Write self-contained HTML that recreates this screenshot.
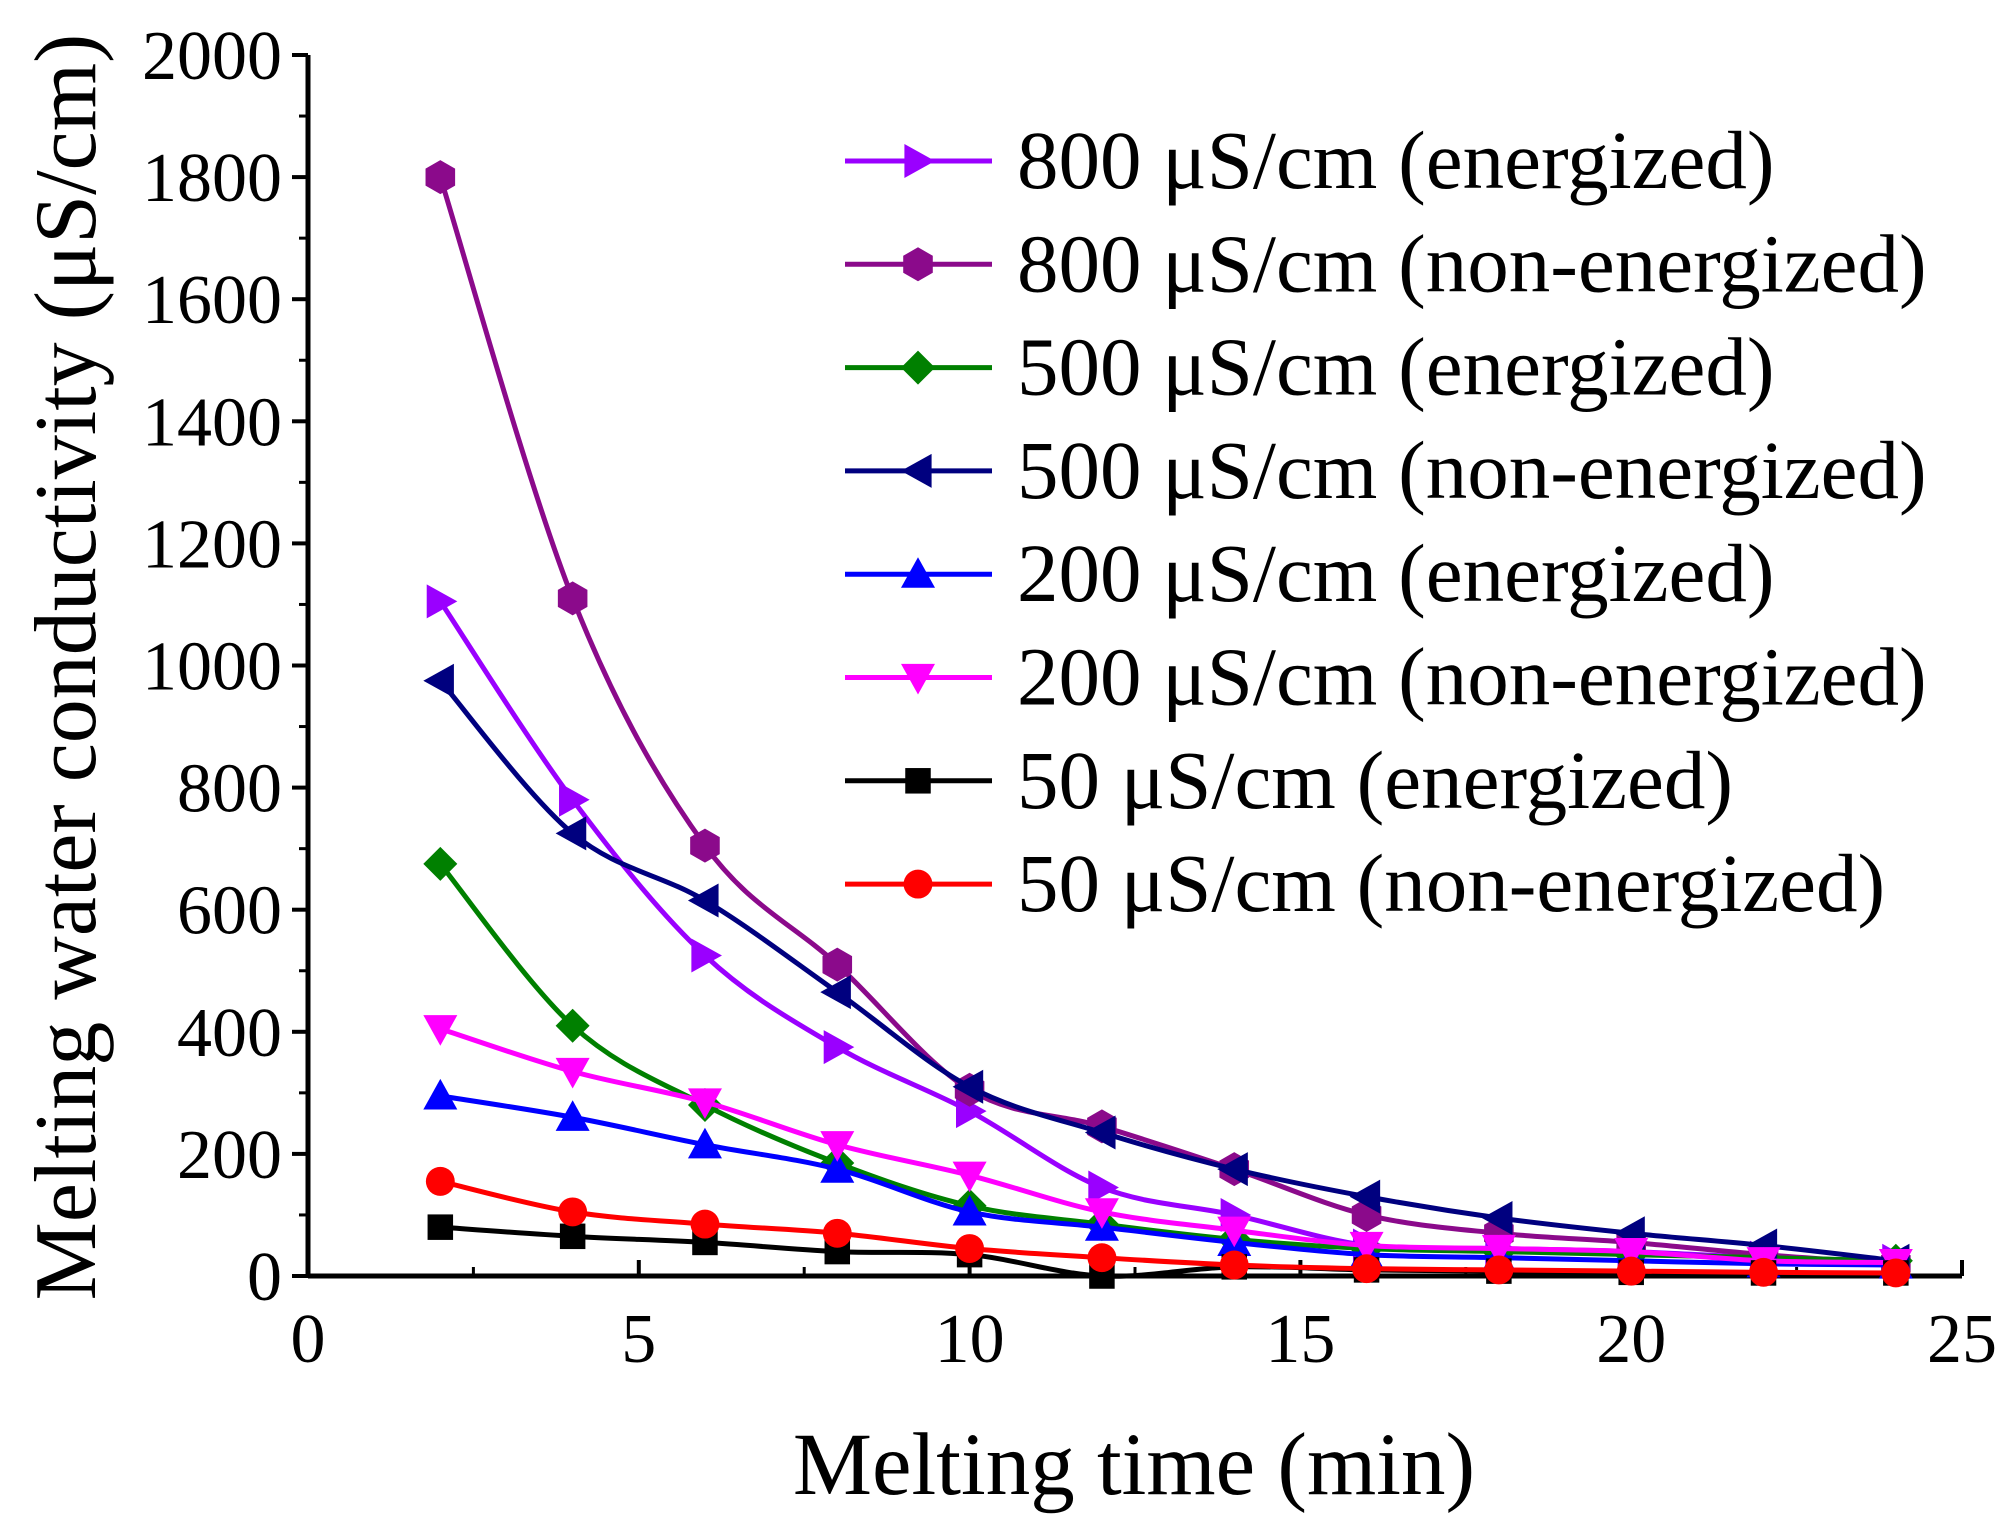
<!DOCTYPE html>
<html><head><meta charset="utf-8"><style>
html,body{margin:0;padding:0;background:#fff}
svg{display:block;font-family:"Liberation Serif",serif}
</style></head><body>
<svg id="chart" width="2005" height="1527" xmlns="http://www.w3.org/2000/svg"></svg>
<script>
const xValues=[2,4,6,8,10,12,14,16,18,20,22,24];
const s800e=[1105,780,525,375,270,145,100,50,45,40,30,25];
const s800n=[1800,1110,705,510,305,245,175,100,70,55,35,20];
const s500e=[675,410,280,185,115,85,60,45,40,35,30,25];
const s500n=[975,725,615,465,310,235,175,130,95,70,50,25];
const s200e=[295,260,215,175,105,80,55,35,30,25,20,18];
const s200n=[405,335,285,215,165,105,75,50,45,40,25,22];
const s50e=[80,65,55,40,35,0,15,10,8,6,5,5];
const s50n=[155,105,85,70,45,30,18,12,10,8,6,5];
const xTicks=[0,5,10,15,20,25];
const yTicks=[0,200,400,600,800,1000,1200,1400,1600,1800,2000];
const legendLabels=["800 μS/cm (energized)","800 μS/cm (non-energized)","500 μS/cm (energized)","500 μS/cm (non-energized)","200 μS/cm (energized)","200 μS/cm (non-energized)","50 μS/cm (energized)","50 μS/cm (non-energized)"];

const X0=308,X1=1962,Y0=1276,Y1=55;
const sx=v=>X0+(v-0)/25*(X1-X0);
const sy=v=>Y0-(v-0)/2000*(Y0-Y1);
const svg=document.getElementById('chart');
const NS="http://www.w3.org/2000/svg";
function mk(tag,attrs,parent){const e=document.createElementNS(NS,tag);for(const k in attrs)e.setAttribute(k,attrs[k]);(parent||svg).appendChild(e);return e;}

const series=[
 {d:s800e,c:"#9a00ff",m:"right"},
 {d:s800n,c:"#8b0a8b",m:"hex"},
 {d:s500e,c:"#008000",m:"diamond"},
 {d:s500n,c:"#00007f",m:"left"},
 {d:s200e,c:"#0000ff",m:"up"},
 {d:s200n,c:"#ff00ff",m:"down"},
 {d:s50e,c:"#000000",m:"square"},
 {d:s50n,c:"#ff0000",m:"circle"}
];
function marker(type,x,y,c,g){
 const r=17;let e;
 if(type==="circle")e=mk('circle',{cx:x,cy:y,r:r*0.85,fill:c},g);
 else if(type==="square")e=mk('rect',{x:x-r*0.75,y:y-r*0.75,width:r*1.5,height:r*1.5,fill:c},g);
 else{let p;
  if(type==="up")p=[[0,-r],[r,r*0.8],[-r,r*0.8]];
  if(type==="down")p=[[0,r],[r,-r*0.8],[-r,-r*0.8]];
  if(type==="right")p=[[r,0],[-r*0.8,-r],[-r*0.8,r]];
  if(type==="left")p=[[-r,0],[r*0.8,-r],[r*0.8,r]];
  if(type==="diamond")p=[[0,-r],[r,0],[0,r],[-r,0]];
  if(type==="hex")p=[[0,-r],[r*0.87,-r*0.5],[r*0.87,r*0.5],[0,r],[-r*0.87,r*0.5],[-r*0.87,-r*0.5]];
  e=mk('polygon',{points:p.map(q=>(x+q[0])+","+(y+q[1])).join(" "),fill:c},g);}
 return e;
}
function smooth(pts){
 let d="M"+pts[0][0]+","+pts[0][1];
 for(let i=0;i<pts.length-1;i++){
  const p0=pts[Math.max(0,i-1)],p1=pts[i],p2=pts[i+1],p3=pts[Math.min(pts.length-1,i+2)];
  const c1=[p1[0]+(p2[0]-p0[0])/6,p1[1]+(p2[1]-p0[1])/6];
  const c2=[p2[0]-(p3[0]-p1[0])/6,p2[1]-(p3[1]-p1[1])/6];
  d+=` C${c1[0]},${c1[1]} ${c2[0]},${c2[1]} ${p2[0]},${p2[1]}`;
 }return d;
}
const ax=mk('g',{});


mk('line',{x1:X0,y1:Y0,x2:X1,y2:Y0,stroke:"#000","stroke-width":5},ax);
mk('line',{x1:X0,y1:Y0+2,x2:X0,y2:Y1,stroke:"#000","stroke-width":5},ax);
yTicks.forEach(v=>{
 mk('line',{x1:X0-16,y1:sy(v),x2:X0,y2:sy(v),stroke:"#000","stroke-width":4},ax);
 if(v<2000)mk('line',{x1:X0-9,y1:sy(v+100),x2:X0,y2:sy(v+100),stroke:"#000","stroke-width":3},ax);
 const t=mk('text',{x:X0-26,y:sy(v)+24,"text-anchor":"end","font-size":70},ax);t.textContent=v;
 
 
});
xTicks.forEach(v=>{
 mk('line',{x1:sx(v),y1:Y0,x2:sx(v),y2:Y0-16,stroke:"#000","stroke-width":4},ax);
 if(v<25)mk('line',{x1:sx(v+2.5),y1:Y0,x2:sx(v+2.5),y2:Y0-9,stroke:"#000","stroke-width":3},ax);
 const t=mk('text',{x:sx(v),y:1362,"text-anchor":"middle","font-size":70},ax);t.textContent=v;
 
 
});
const xt=mk('text',{x:1134,y:1494,"text-anchor":"middle","font-size":89});xt.textContent="Melting time (min)";


const yt=mk('text',{x:0,y:0,"text-anchor":"middle","font-size":88,transform:"translate(95,667) rotate(-90)"});yt.textContent="Melting water conductivity (μS/cm)";


series.forEach((s,i)=>{
 const g=mk('g',{});
 
 
 const pts=xValues.map((x,j)=>[sx(x),sy(s.d[j])]);
 mk('path',{d:smooth(pts),fill:"none",stroke:s.c,"stroke-width":5},g);
 pts.forEach(p=>{const m=marker(s.m,p[0],p[1],s.c,g);
  
  });
});
const lg=mk('g',{});


series.forEach((s,i)=>{
 const y=161+i*103.3;
 const e=mk('g',{},lg);
 
 
 mk('line',{x1:845,y1:y,x2:992,y2:y,stroke:s.c,"stroke-width":5},e);
 marker(s.m,918,y,s.c,e);
 const t=mk('text',{x:1017,y:y+27,"font-size":83},e);t.textContent=legendLabels[i];
});
</script>
</body></html>
